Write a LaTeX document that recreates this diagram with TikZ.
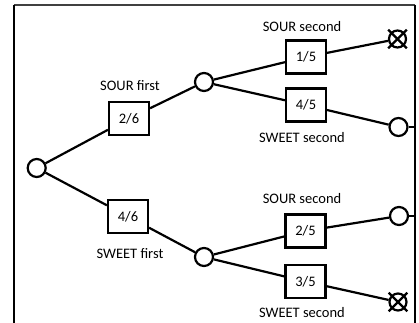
\documentclass[tikz,border=0pt]{standalone}
\usepackage{fontspec}
\setmainfont{Carlito}
\begin{document}
\begin{tikzpicture}[x=1pt,y=-1pt,
  every node/.style={font=\fontsize{14.5}{17}\selectfont},
  dot/.style={circle,draw,line width=2.2pt,minimum size=18pt,inner sep=0pt},
  xdot/.style={circle,draw,line width=2.2pt,minimum size=17pt,inner sep=0pt},
  prob/.style={rectangle,draw,line width=2.1pt,minimum width=40pt,minimum height=33pt,inner sep=0pt},
  lbl/.style={inner sep=0pt},
  edge/.style={line width=2.2pt},
  cross/.style={line width=2.2pt,shorten <=-3.5pt,shorten >=-3.5pt}]
\useasboundingbox (0,0) rectangle (419,322);
% frame
\draw[line width=1.4pt,black!75] (14,5) -- (415,5);
\draw[line width=2.4pt] (14,323) -- (14,4.5);
\draw[line width=1.8pt] (415,4.5) -- (415,323);
\coordinate (e1) at (415,127);
\coordinate (e2) at (415,216);
% nodes
\node[dot] (root) at (36.7,168) {};
\node[prob] (b26) at (129,118.5) {2/6};
\node[lbl] (l26) at (130,86) {SOUR first};
\node[dot] (m1) at (204,82) {};
\node[prob] (b46) at (128,216.5) {4/6};
\node[lbl] (l46) at (130,254) {SWEET first};
\node[dot] (m2) at (204,257) {};
\node[prob] (b15) at (306,57) {1/5};
\node[lbl] (l15) at (302,27) {SOUR second};
\node[prob] (b45) at (306,105) {4/5};
\node[lbl] (l45) at (302,138) {SWEET second};
\node[prob] (b25) at (305.5,231) {2/5};
\node[lbl] (l25) at (302,199) {SOUR second};
\node[prob] (b35) at (305.5,281.5) {3/5};
\node[lbl] (l35) at (302,313) {SWEET second};
\node[xdot] (x1) at (397.5,39) {};
\node[dot] (c1) at (398.5,127) {};
\node[dot] (c2) at (399,216) {};
\node[xdot] (x2) at (398,302) {};
% crosses
\draw[cross] (x1.north west) -- (x1.south east);
\draw[cross] (x1.north east) -- (x1.south west);
\draw[cross] (x2.north west) -- (x2.south east);
\draw[cross] (x2.north east) -- (x2.south west);
% connectors
\draw[edge] (root) -- (b26);
\draw[edge] (b26) -- (m1);
\draw[edge] (root) -- (b46);
\draw[edge] (b46) -- (m2);
\draw[edge] (m1) -- (b15);
\draw[edge] (b15) -- (x1);
\draw[edge] (m1) -- (b45);
\draw[edge] (b45) -- (c1);
\draw[edge] (c1) -- (e1);
\draw[edge] (m2) -- (b25);
\draw[edge] (b25) -- (c2);
\draw[edge] (c2) -- (e2);
\draw[edge] (m2) -- (b35);
\draw[edge] (b35) -- (x2);
\end{tikzpicture}
\end{document}
